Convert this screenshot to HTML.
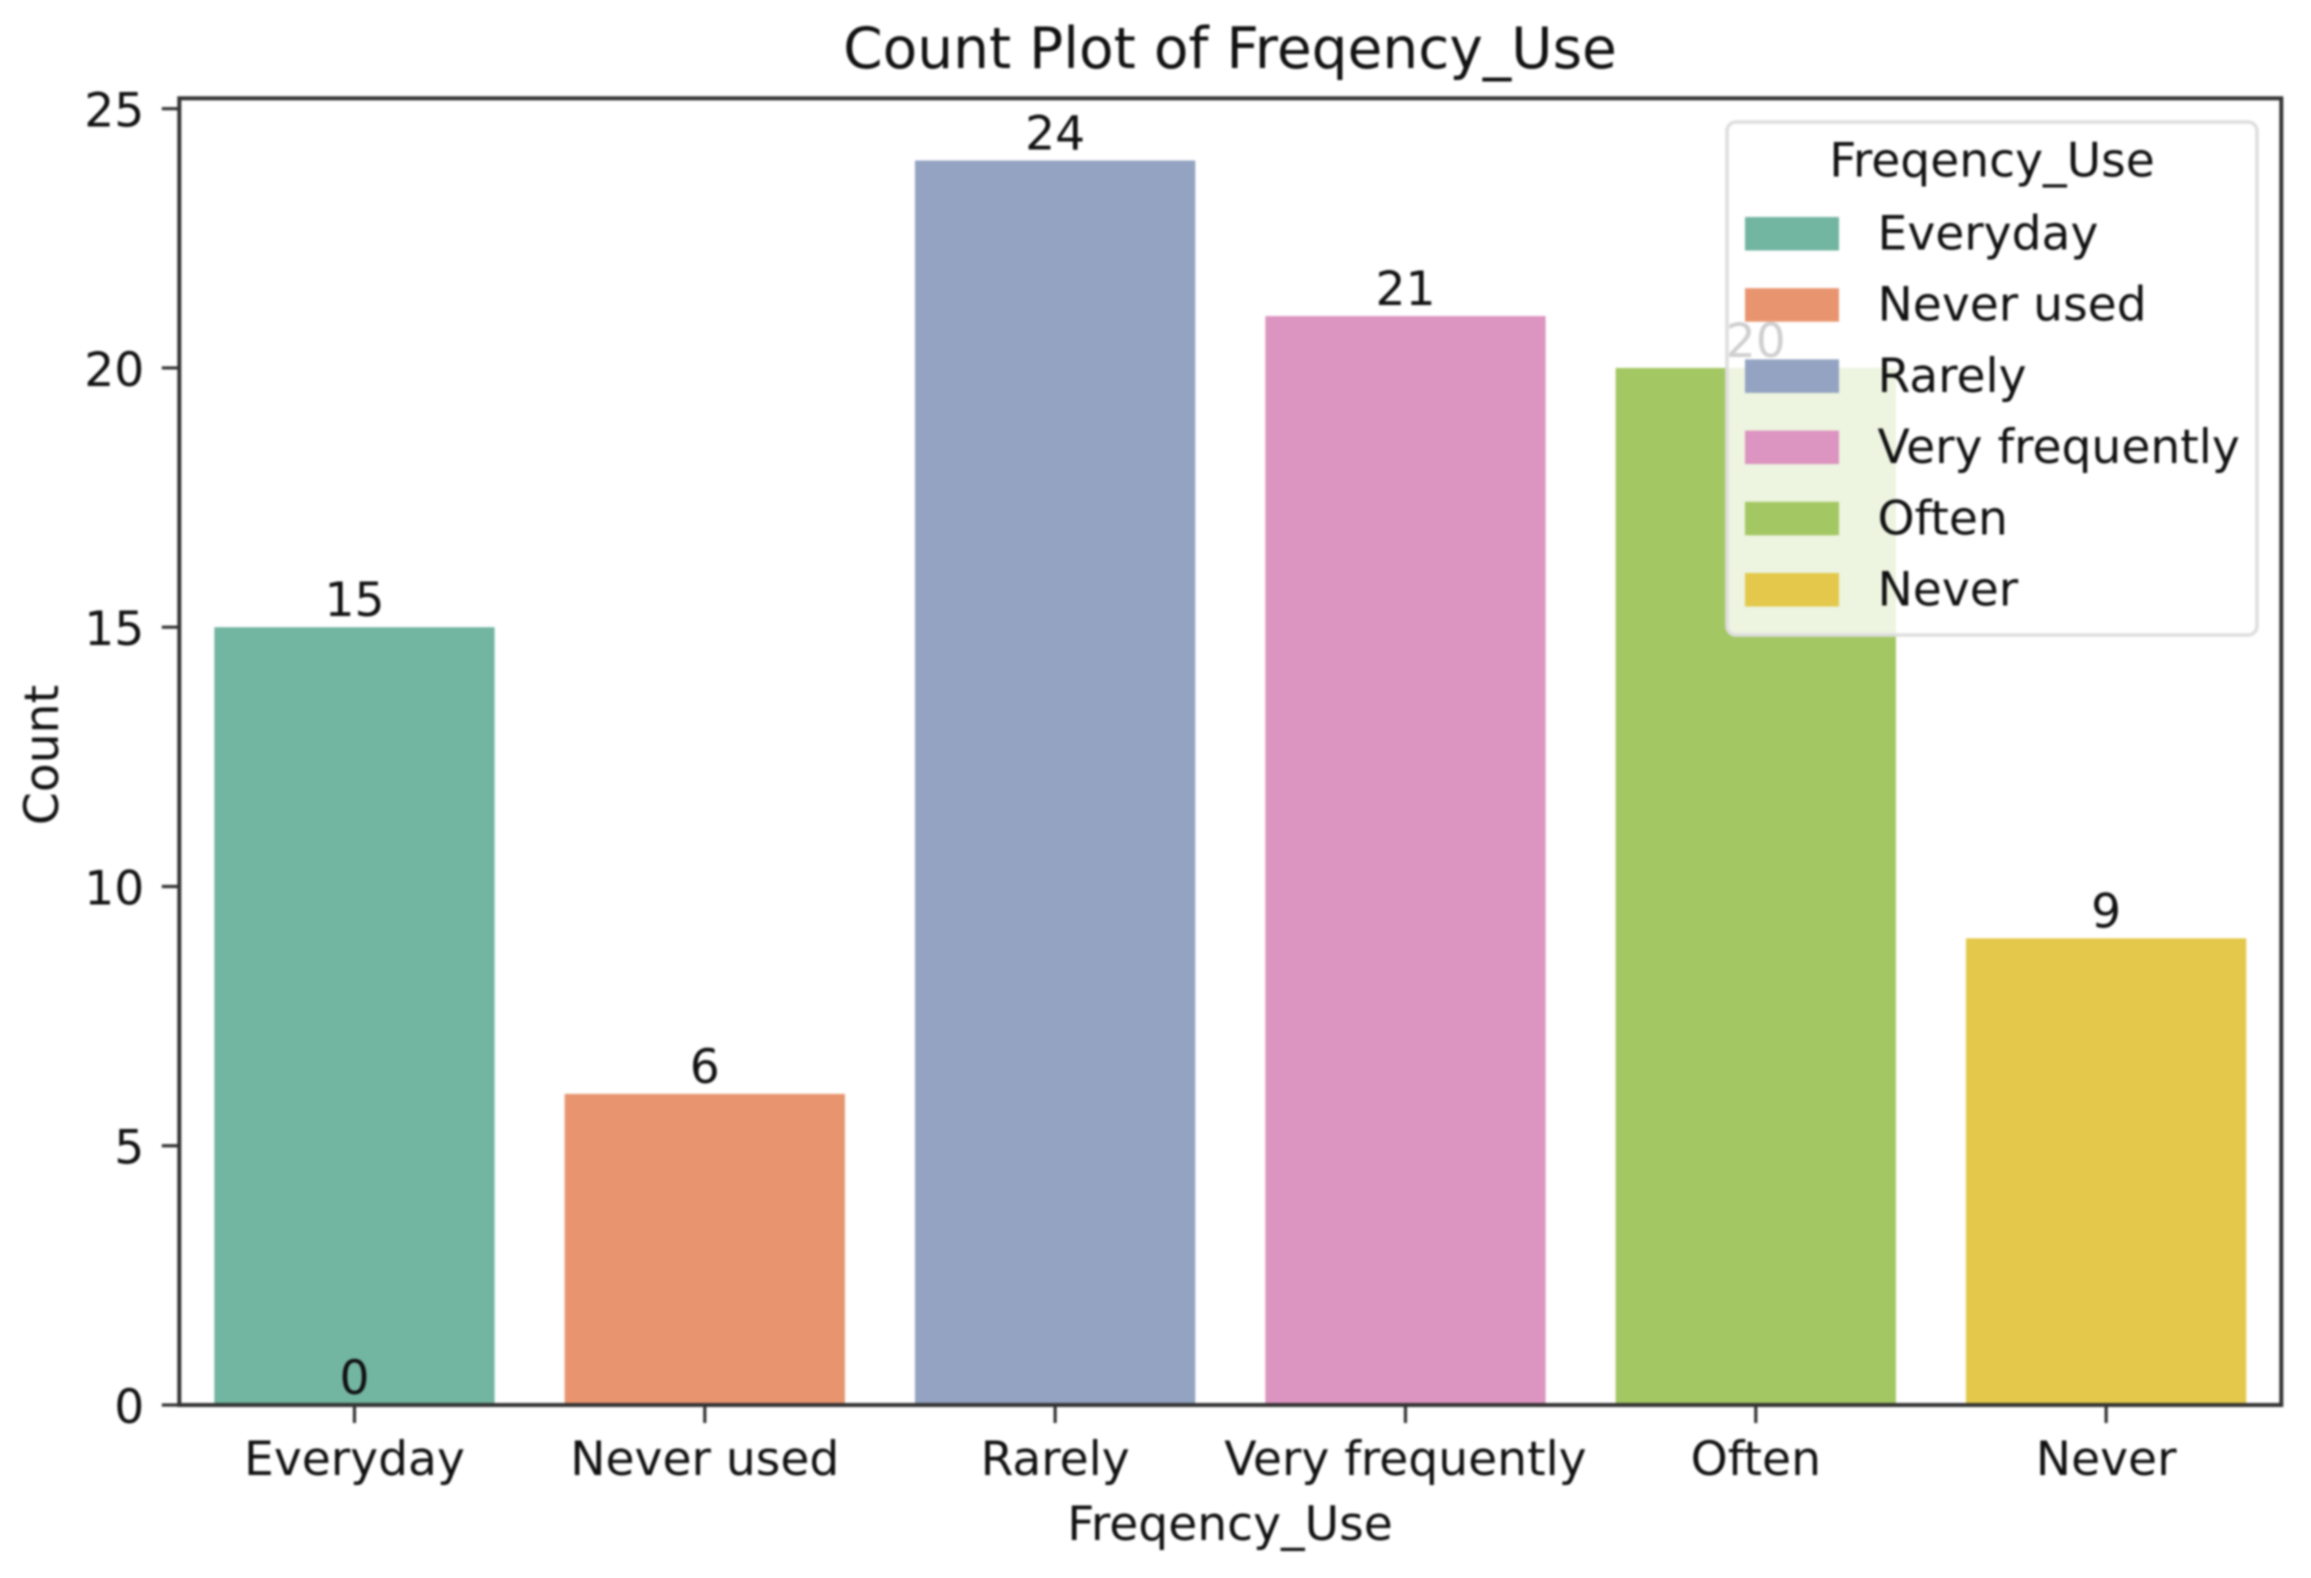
<!DOCTYPE html>
<html lang="en">
<head>
<meta charset="utf-8">
<title>Count Plot of Freqency_Use</title>
<style>
  html, body { margin: 0; padding: 0; background: #fff; }
  svg { display: block; filter: blur(1.1px); }
  text { font-family: "DejaVu Sans", "Liberation Sans", sans-serif; fill: #111; }
</style>
</head>
<body>
<svg id="chart" xmlns="http://www.w3.org/2000/svg" width="2311" height="1578" viewBox="0 0 2311 1578">
  <rect x="0" y="0" width="2311" height="1578" fill="#fff"/>
  <g id="bars"></g>
  <g id="bar-labels"></g>
  <g id="x-axis"></g>
  <g id="y-axis"></g>
  <rect x="179.3" y="98.3" width="2102" height="1306.7" fill="none" stroke="#333" stroke-width="4"/>
  <text x="1230" y="68" font-size="56.6" text-anchor="middle">Count Plot of Freqency_Use</text>
  <text x="1230" y="1540" font-size="47.2" text-anchor="middle">Freqency_Use</text>
  <text transform="translate(58 755) rotate(-90)" font-size="47.2" text-anchor="middle">Count</text>
  <g id="legend">
    <rect x="1727" y="122" width="530" height="513" rx="9" ry="9" fill="#fff" fill-opacity="0.8" stroke="#dedede" stroke-width="3.6"/>
    <text x="1992" y="176.5" font-size="47.2" text-anchor="middle">Freqency_Use</text>
  </g>
</svg>
<script>
const categories = ["Everyday", "Never used", "Rarely", "Very frequently", "Often", "Never"];
const counts = [15, 6, 24, 21, 20, 9];
const extraZeroLabelCategories = ["Everyday"];
const yTickLabels = [0, 5, 10, 15, 20, 25];
const palette = ["#72b5a0", "#e8956f", "#93a3c1", "#dc94c0", "#a3c763", "#e3c84b"];

const NS = "http://www.w3.org/2000/svg";
const plot = { left: 179.3, right: 2281.3, top: 98.3, bottom: 1405 };
const yDomainMax = 25.2;
const band = (plot.right - plot.left) / categories.length;
const barWidth = band * 0.8;

function xCenter(category) {
  return plot.left + band * (categories.indexOf(category) + 0.5);
}
function yScale(value) {
  return plot.bottom - (value / yDomainMax) * (plot.bottom - plot.top);
}
function slug(label) {
  return String(label).toLowerCase().replace(/\s+/g, "-");
}
function make(tag, attrs, parent, content) {
  const node = document.createElementNS(NS, tag);
  for (const key in attrs) node.setAttribute(key, attrs[key]);
  if (content !== undefined) node.textContent = content;
  parent.appendChild(node);
  return node;
}

const barsGroup = document.getElementById("bars");
const labelsGroup = document.getElementById("bar-labels");
const xAxisGroup = document.getElementById("x-axis");
const yAxisGroup = document.getElementById("y-axis");
const legendGroup = document.getElementById("legend");

categories.forEach(function (category, i) {
  const cx = xCenter(category);
  const top = yScale(counts[i]);

  const bar = make("rect", { x: cx - barWidth / 2, y: top, width: barWidth, height: plot.bottom - top, fill: palette[i] }, barsGroup);
  
  

  const label = make("text", { x: cx, y: top - 11, "font-size": 47.2, "text-anchor": "middle" }, labelsGroup, counts[i]);
  
  

  const tick = make("line", { x1: cx, x2: cx, y1: plot.bottom, y2: plot.bottom + 18, stroke: "#333", "stroke-width": 3.2 }, xAxisGroup);
  
  

  const tickLabel = make("text", { x: cx, y: plot.bottom + 70, "font-size": 47.2, "text-anchor": "middle" }, xAxisGroup, category);
  
  

  const rowY = 217 + 71.2 * i;
  const swatch = make("rect", { x: 1745, y: rowY, width: 94, height: 33.5, fill: palette[i] }, legendGroup);
  
  

  const entry = make("text", { x: 1877.5, y: rowY + 32.5, "font-size": 47.2 }, legendGroup, category);
  
  
});

extraZeroLabelCategories.forEach(function (category) {
  const zero = make("text", { x: xCenter(category), y: yScale(0) - 11, "font-size": 47.2, "text-anchor": "middle" }, labelsGroup, 0);
  
  
});

yTickLabels.forEach(function (value) {
  const y = yScale(value);

  const tick = make("line", { x1: plot.left - 17.5, x2: plot.left, y1: y, y2: y, stroke: "#333", "stroke-width": 3.2 }, yAxisGroup);
  
  

  const tickLabel = make("text", { x: plot.left - 35, y: y + 18, "font-size": 47.2, "text-anchor": "end" }, yAxisGroup, value);
  
  
});
</script>
</body>
</html>
